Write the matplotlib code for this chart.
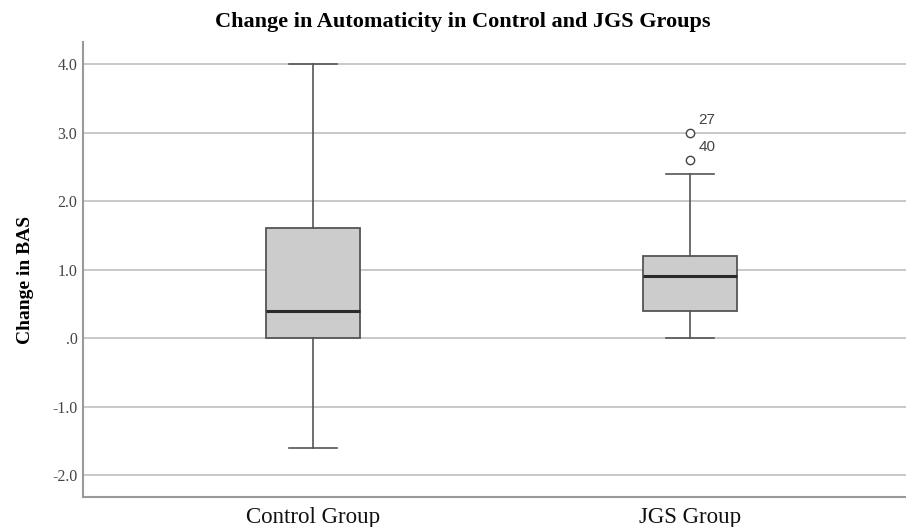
import matplotlib.pyplot as plt
import numpy as np

groups = ['Control Group', 'JGS Group']
whislo = [-1.6, 0.0]
q1 = [0.0, 0.4]
med = [0.4, 0.9]
q3 = [1.6, 1.2]
whishi = [4.0, 2.4]
fliers = [[], [3.0, 2.6]]
flier_ids = [[], ['27', '40']]
yticks = [4.0, 3.0, 2.0, 1.0, 0.0, -1.0, -2.0]
ytick_labels = ['4.0', '3.0', '2.0', '1.0', '.0', '-1.0', '-2.0']

serif = ['Liberation Serif', 'DejaVu Serif']

fig = plt.figure(figsize=(9.06, 5.27), dpi=100)
ax = fig.add_axes([0.0916, 0.0569, 0.9084, 0.8631])

stats = []
for i, g in enumerate(groups):
    stats.append(dict(label=g, whislo=whislo[i], q1=q1[i], med=med[i],
                      q3=q3[i], whishi=whishi[i], fliers=fliers[i]))

pos = [1, 2]
ax.bxp(stats, positions=pos, widths=0.249, patch_artist=True,
       showfliers=True, manage_ticks=False, capwidths=0.125,
       boxprops=dict(facecolor='#cccccc', edgecolor='#555555', linewidth=1.3),
       medianprops=dict(color='#2a2a2a', linewidth=2.2),
       whiskerprops=dict(color='#555555', linewidth=1.2),
       capprops=dict(color='#555555', linewidth=1.2),
       flierprops=dict(marker='o', markerfacecolor='white',
                       markeredgecolor='#444444', markersize=6,
                       markeredgewidth=1.0))
for i in range(len(groups)):
    for v, lab in zip(fliers[i], flier_ids[i]):
        ax.annotate(lab, (pos[i], v), xytext=(6, 4), textcoords='offset points',
                    fontsize=11, color='#444444', family='Liberation Sans',
                    va='bottom', ha='left')

ax.set_xlim(0.39, 2.573)
ax.set_ylim(-2.32, 4.32)
ax.set_xticks(pos)
ax.set_xticklabels(groups, family=serif, fontsize=16.5, color='#111111')
ax.set_yticks(yticks)
ax.set_yticklabels(ytick_labels, family=serif, fontsize=11.5, color='#444444')
ax.tick_params(axis='both', length=0, pad=4)
ax.tick_params(axis='x', pad=7)
ax.yaxis.grid(True, color='#c8c8c8', linewidth=1.4)
ax.set_axisbelow(True)
for s in ['top', 'right']:
    ax.spines[s].set_visible(False)
for s in ['left', 'bottom']:
    ax.spines[s].set_color('#999999')
    ax.spines[s].set_linewidth(1.5)

ax.set_ylabel('Change in BAS', family=serif, fontsize=14, fontweight='bold')
ax.yaxis.set_label_coords(-0.06, 0.477)
fig.text(0.511, 0.958, 'Change in Automaticity in Control and JGS Groups',
         family=serif, fontsize=16, fontweight='bold', ha='center', va='center')

fig.savefig('out.png', dpi=100)
